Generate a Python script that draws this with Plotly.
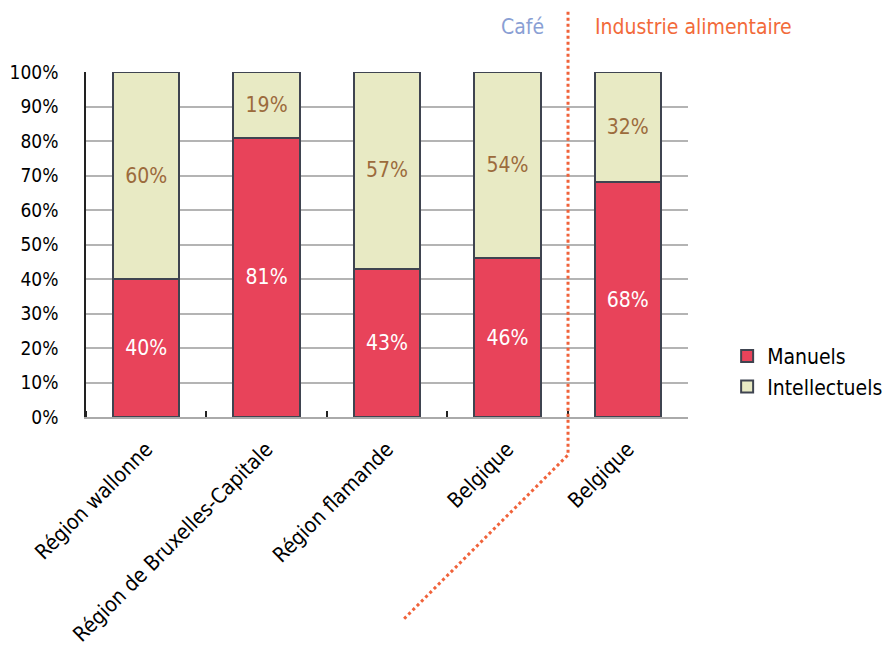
import plotly.graph_objects as go

categories = ["Région wallonne", "Région de Bruxelles-Capitale", "Région flamande", "Belgique", "Belgique"]
manuels = [40, 81, 43, 46, 68]
intellectuels = [60, 19, 57, 54, 32]
y_ticks = [0, 10, 20, 30, 40, 50, 60, 70, 80, 90, 100]
y_ticktext = [f"{v}%" for v in y_ticks]
group_left = "Café"
group_right = "Industrie alimentaire"

FONT = "DejaVu Sans Condensed, Liberation Sans Narrow, sans-serif"
RED = "#E8435A"
BEIGE = "#E8EAC4"
OUTLINE = "#3F4450"

xs = list(range(len(categories)))

fig = go.Figure()
fig.add_trace(go.Bar(
    x=xs, y=manuels, name="Manuels",
    marker=dict(color=RED, line=dict(color=OUTLINE, width=2)),
    text=[f"{v}%" for v in manuels], textposition="inside", insidetextanchor="middle",
    textfont=dict(color="white", size=21, family=FONT), width=0.55,
))
fig.add_trace(go.Bar(
    x=xs, y=intellectuels, name="Intellectuels",
    marker=dict(color=BEIGE, line=dict(color=OUTLINE, width=2)),
    text=[f"{v}%" for v in intellectuels], textposition="inside", insidetextanchor="middle",
    textfont=dict(color="#9C6B3C", size=21, family=FONT), width=0.55,
))

fig.update_layout(
    barmode="stack",
    width=893, height=652,
    margin=dict(l=78, r=213, t=64, b=243),
    plot_bgcolor="white", paper_bgcolor="white",
    font=dict(family=FONT, size=20, color="black"),
    showlegend=True,
    legend=dict(x=1.065, y=0.235, xanchor="left", yanchor="top",
                font=dict(size=21, family=FONT), tracegroupgap=10,
                traceorder="normal", itemwidth=30),
    uniformtext=dict(minsize=10, mode="show"),
)
fig.update_xaxes(
    automargin=False,
    range=[-0.5, len(categories) - 0.5],
    tickmode="array", tickvals=xs, ticktext=categories,
    tickangle=-45, ticks="", showgrid=False, ticklabelstandoff=10,
    showline=True, linecolor="#AAAAAA", linewidth=1.5,
    tickfont=dict(size=21, family=FONT),
    minor=dict(tickmode="array", tickvals=[-0.5] + [x + 0.5 for x in xs[:-1]],
               ticks="inside", ticklen=6, tickcolor="#222222", tickwidth=1.5),
    zeroline=False,
)
fig.update_yaxes(
    automargin=False,
    range=[0, 100], tickmode="array", tickvals=y_ticks, ticktext=y_ticktext,
    showgrid=True, gridcolor="#B4B4B4", gridwidth=1.5,
    showline=True, linecolor="#222222", linewidth=1.5,
    ticks="", ticklabelstandoff=22,
    tickfont=dict(size=19, family=FONT),
    zeroline=False,
)

# dotted separator line
fig.add_shape(type="path", xref="paper", yref="paper",
              path="M 0.8007 1.175 L 0.8007 -0.11 L 0.5266 -0.588",
              line=dict(color="#F0623A", width=3, dash="dot"))

fig.add_annotation(text=group_left, xref="paper", yref="paper", x=0.7636, y=1.13,
                   showarrow=False, font=dict(size=21, color="#8A9FD4", family=FONT),
                   xanchor="right", yanchor="middle")
fig.add_annotation(text=group_right, xref="paper", yref="paper", x=0.842, y=1.13,
                   showarrow=False, font=dict(size=21, color="#F26A3A", family=FONT),
                   xanchor="left", yanchor="middle")

fig.write_html("out.html")
